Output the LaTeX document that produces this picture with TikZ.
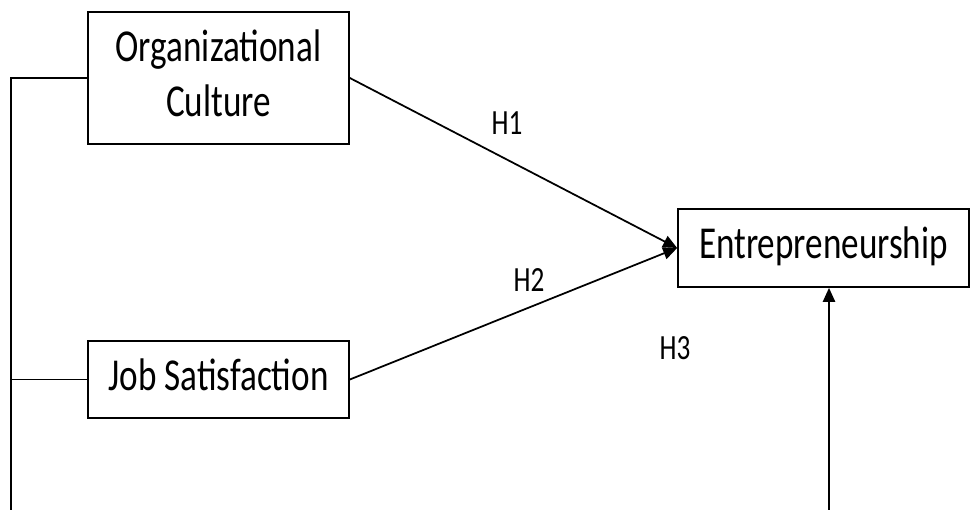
\documentclass[tikz,border=0pt]{standalone}
\usepackage{fontspec}
\setmainfont{Carlito}
\usetikzlibrary{arrows.meta}
\newcommand\tallText[1]{\scalebox{1}[1.3]{\begin{tabular}{@{}c@{}}#1\end{tabular}}}

\begin{document}
\begin{tikzpicture}[x=0.02cm,y=-0.02cm,line width=1pt,
    var/.style={draw,inner sep=0pt,font=\fontsize{20}{24}\selectfont},
    hyp/.style={inner sep=0pt,font=\fontsize{15.5}{18}\selectfont},
    arr/.style={-{Triangle[length=8pt,width=7pt]}}]
  \useasboundingbox (0,0) rectangle (970,510);

  \node[var,minimum width=5.22cm,minimum height=2.64cm] (culture) at (218.5,78) {\tallText{Organizational\\Culture}};
  \node[var,minimum width=5.22cm,minimum height=1.54cm] (satisf) at (218.5,379.5) {\tallText{Job Satisfaction}};
  \node[var,minimum width=5.82cm,minimum height=1.56cm] (entre) at (823.5,248) {\tallText{Entrepreneurship}};

  \coordinate (spine) at (11,510);
  \coordinate (base) at (829,510);

  \draw (culture.west) -| (spine);
  \draw (satisf.west) -- (satisf.west -| spine);
  \draw[arr] (culture.east) -- (entre.west);
  \draw[arr] (satisf.east) -- (entre.west);
  \draw[arr] (base) -- (base |- entre.south);

  \path (507,126)node[hyp](h1){\tallText{H1}} (529,283)node[hyp](h2){\tallText{H2}} (675,351)node[hyp](h3){\tallText{H3}};
\end{tikzpicture}
\end{document}
